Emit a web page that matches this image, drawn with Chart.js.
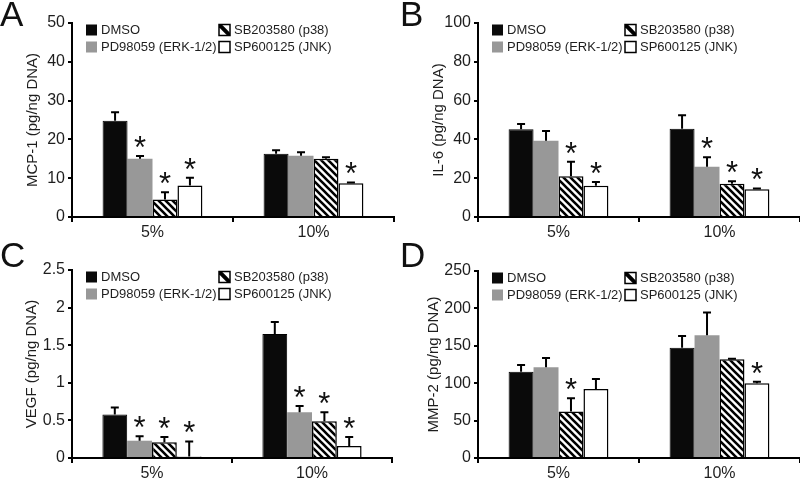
<!DOCTYPE html>
<html>
<head>
<meta charset="utf-8">
<script src="https://cdn.jsdelivr.net/npm/chart.js@4/dist/chart.umd.min.js"></script>
<style>
  html, body { margin: 0; padding: 0; background: #fff; }
  #wrap { position: relative; width: 800px; height: 481px; overflow: hidden; }
  .panel { position: absolute; }
</style>
</head>
<body>
<div id="wrap">
  <div class="panel" style="left:0;top:0;width:400px;height:242px"><canvas id="chartA"></canvas></div>
  <div class="panel" style="left:400px;top:0;width:400px;height:242px"><canvas id="chartB"></canvas></div>
  <div class="panel" style="left:0;top:240px;width:400px;height:241px"><canvas id="chartC"></canvas></div>
  <div class="panel" style="left:400px;top:240px;width:400px;height:241px"><canvas id="chartD"></canvas></div>
</div>
<script>
// categories and treatments
const groups = ['5%', '10%'];
const treatments = ['DMSO', 'PD98059 (ERK-1/2)', 'SB203580 (p38)', 'SP600125 (JNK)'];

// A - MCP-1 (values per treatment: DMSO, PD, SB, SP)
const mcp1At5 = [24.8, 15.0, 4.5, 8.1];
const mcp1At10 = [16.3, 15.8, 15.0, 8.7];
const mcp1Err5 = [2.2, 0.7, 1.9, 2.0];
const mcp1Err10 = [0.9, 0.9, 0.4, 0.2];
const mcp1Sig5 = [0, 1, 1, 1];
const mcp1Sig10 = [0, 0, 0, 1];

// B - IL-6
const il6At5 = [45.2, 39.3, 21.0, 16.1];
const il6At10 = [45.5, 25.9, 17.2, 14.3];
const il6Err5 = [2.7, 5.0, 7.5, 1.9];
const il6Err10 = [7.0, 4.9, 1.2, 0.4];
const il6Sig5 = [0, 0, 1, 1];
const il6Sig10 = [0, 1, 1, 1];

// C - VEGF
const vegfAt5 = [0.58, 0.23, 0.21, 0.02];
const vegfAt10 = [1.65, 0.61, 0.49, 0.16];
const vegfErr5 = [0.09, 0.06, 0.07, 0.2];
const vegfErr10 = [0.16, 0.08, 0.12, 0.12];
const vegfSig5 = [0, 1, 1, 1];
const vegfSig10 = [0, 1, 1, 1];

// D - MMP-2
const mmp2At5 = [115.4, 121.2, 62, 92.3];
const mmp2At10 = [147.4, 164, 132, 100];
const mmp2Err5 = [8.9, 12.4, 18, 13.4];
const mmp2Err10 = [15.6, 30.5, 0.6, 2];
const mmp2Sig5 = [0, 0, 1, 0];
const mmp2Sig10 = [0, 0, 0, 1];

const FONT = "'Liberation Sans', Arial, sans-serif";
const TXT = '#1e1e1e';

function makeHatch() {
  const c = document.createElement('canvas');
  c.width = 7; c.height = 7;
  const g = c.getContext('2d');
  g.fillStyle = '#fff';
  g.fillRect(0, 0, 7, 7);
  g.strokeStyle = '#000';
  g.lineWidth = 2.6;
  g.beginPath();
  for (const o of [-7, 0, 7]) {
    g.moveTo(o - 1, -1);
    g.lineTo(o + 8, 8);
  }
  g.stroke();
  return g.createPattern(c, 'repeat');
}
const hatch = makeHatch();

const barStyles = [
  { backgroundColor: '#0a0a0a', borderColor: '#000', borderWidth: 1 },
  { backgroundColor: '#989898', borderColor: '#989898', borderWidth: 0 },
  { backgroundColor: hatch, borderColor: '#000', borderWidth: 1.5 },
  { backgroundColor: '#ffffff', borderColor: '#000', borderWidth: 1.5 }
];

// error bars + asterisks
const errorBarPlugin = {
  id: 'errorBars',
  afterDatasetsDraw(chart) {
    const ctx = chart.ctx;
    const ys = chart.scales.y;
    ctx.save();
    chart.data.datasets.forEach((ds, di) => {
      const meta = chart.getDatasetMeta(di);
      meta.data.forEach((bar, i) => {
        const top = ys.getPixelForValue(ds.data[i] + ds.errors[i]);
        ctx.strokeStyle = '#000';
        ctx.lineWidth = 2;
        ctx.beginPath();
        ctx.moveTo(bar.x, bar.y);
        ctx.lineTo(bar.x, top);
        ctx.moveTo(bar.x - 4, top);
        ctx.lineTo(bar.x + 4, top);
        ctx.stroke();
        if (ds.stars[i]) {
          ctx.fillStyle = '#111';
          ctx.font = '31px ' + FONT;
          ctx.textAlign = 'center';
          ctx.textBaseline = 'alphabetic';
          ctx.fillText('*', bar.x, top + 2);
        }
      });
    });
    ctx.restore();
  }
};

// legend inside plot + panel letter
const panelDecorPlugin = {
  id: 'panelDecor',
  afterDraw(chart, args, opts) {
    const ctx = chart.ctx;
    const area = chart.chartArea;
    ctx.save();
    ctx.fillStyle = '#111';
    ctx.font = '35px ' + FONT;
    ctx.textAlign = 'left';
    ctx.textBaseline = 'alphabetic';
    ctx.fillText(opts.letter, 0, opts.letterY);

    const s = 11;
    const cols = [area.left + 14, area.left + 147];
    const rows = [area.top + 7, area.top + 24];
    ctx.font = '13px ' + FONT;
    ctx.textBaseline = 'middle';
    treatments.forEach((name, i) => {
      const x = cols[Math.floor(i / 2)];
      const yc = rows[i % 2];
      const y = yc - s / 2;
      if (i === 0) {
        ctx.fillStyle = '#0a0a0a';
        ctx.fillRect(x, y, s, s);
      } else if (i === 1) {
        ctx.fillStyle = '#989898';
        ctx.fillRect(x, y, s, s);
      } else if (i === 2) {
        ctx.fillStyle = '#fff';
        ctx.fillRect(x, y, s, s);
        ctx.save();
        ctx.beginPath();
        ctx.rect(x, y, s, s);
        ctx.clip();
        ctx.strokeStyle = '#000';
        ctx.lineWidth = 4;
        ctx.beginPath();
        ctx.moveTo(x, y);
        ctx.lineTo(x + s, y + s);
        ctx.stroke();
        ctx.restore();
        ctx.strokeStyle = '#000';
        ctx.lineWidth = 1.5;
        ctx.strokeRect(x, y, s, s);
      } else {
        ctx.fillStyle = '#fff';
        ctx.fillRect(x, y, s, s);
        ctx.strokeStyle = '#000';
        ctx.lineWidth = 1.5;
        ctx.strokeRect(x, y, s, s);
      }
      ctx.fillStyle = TXT;
      ctx.fillText(name, x + s + 4, yc + 0.5);
    });
    ctx.restore();
  }
};

function makePanel(id, p) {
  const datasets = treatments.map((name, i) => Object.assign({
    label: name,
    data: [p.v5[i], p.v10[i]],
    errors: [p.e5[i], p.e10[i]],
    stars: [p.s5[i], p.s10[i]],
    barPercentage: 1.0,
    categoryPercentage: 0.62,
    borderSkipped: 'bottom'
  }, barStyles[i]));

  return new Chart(document.getElementById(id), {
    type: 'bar',
    data: { labels: groups, datasets: datasets },
    options: {
      responsive: true,
      maintainAspectRatio: false,
      animation: false,
      layout: { padding: { left: 0, top: p.top, right: p.right, bottom: 0 } },
      plugins: {
        legend: { display: false },
        tooltip: { enabled: false },
        panelDecor: { letter: p.letter, letterY: p.letterY }
      },
      scales: {
        x: {
          afterFit: s => { s.height = p.xh; },
          grid: { display: true, drawOnChartArea: false, drawTicks: true, tickLength: 5, color: '#000', lineWidth: 2 },
          border: { display: true, color: '#000', width: 2 },
          ticks: { color: TXT, font: { family: FONT, size: 16 }, padding: 1 }
        },
        y: {
          min: 0,
          max: p.max,
          afterFit: s => { s.width = p.left; },
          grid: { display: true, drawOnChartArea: false, drawTicks: true, tickLength: 4, color: '#000', lineWidth: 2 },
          border: { display: true, color: '#000', width: 2 },
          ticks: {
            stepSize: p.step, color: TXT, font: { family: FONT, size: 16 }, padding: 3,
            callback: v => String(Math.round(v * 100) / 100)
          },
          title: {
            display: true,
            text: p.title,
            color: TXT,
            font: { family: FONT, size: 15 },
            padding: { top: p.titlePad, bottom: 0 }
          }
        }
      }
    },
    plugins: [errorBarPlugin, panelDecorPlugin]
  });
}

makePanel('chartA', { letter: 'A', letterY: 26, title: 'MCP-1 (pg/ng DNA)', max: 50, step: 10,
  v5: mcp1At5, v10: mcp1At10, e5: mcp1Err5, e10: mcp1Err10, s5: mcp1Sig5, s10: mcp1Sig10,
  left: 72, top: 23, right: 6, xh: 25, titlePad: 24 });
makePanel('chartB', { letter: 'B', letterY: 26, title: 'IL-6 (pg/ng DNA)', max: 100, step: 20,
  v5: il6At5, v10: il6At10, e5: il6Err5, e10: il6Err10, s5: il6Sig5, s10: il6Sig10,
  left: 78, top: 23, right: 0, xh: 25, titlePad: 30 });
makePanel('chartC', { letter: 'C', letterY: 27, title: 'VEGF (pg/ng DNA)', max: 2.5, step: 0.5,
  v5: vegfAt5, v10: vegfAt10, e5: vegfErr5, e10: vegfErr10, s5: vegfSig5, s10: vegfSig10,
  left: 72, top: 30, right: 8, xh: 23, titlePad: 23 });
makePanel('chartD', { letter: 'D', letterY: 27, title: 'MMP-2 (pg/ng DNA)', max: 250, step: 50,
  v5: mmp2At5, v10: mmp2At10, e5: mmp2Err5, e10: mmp2Err10, s5: mmp2Sig5, s10: mmp2Sig10,
  left: 78, top: 31, right: 0, xh: 23, titlePad: 25 });
</script>
</body>
</html>
